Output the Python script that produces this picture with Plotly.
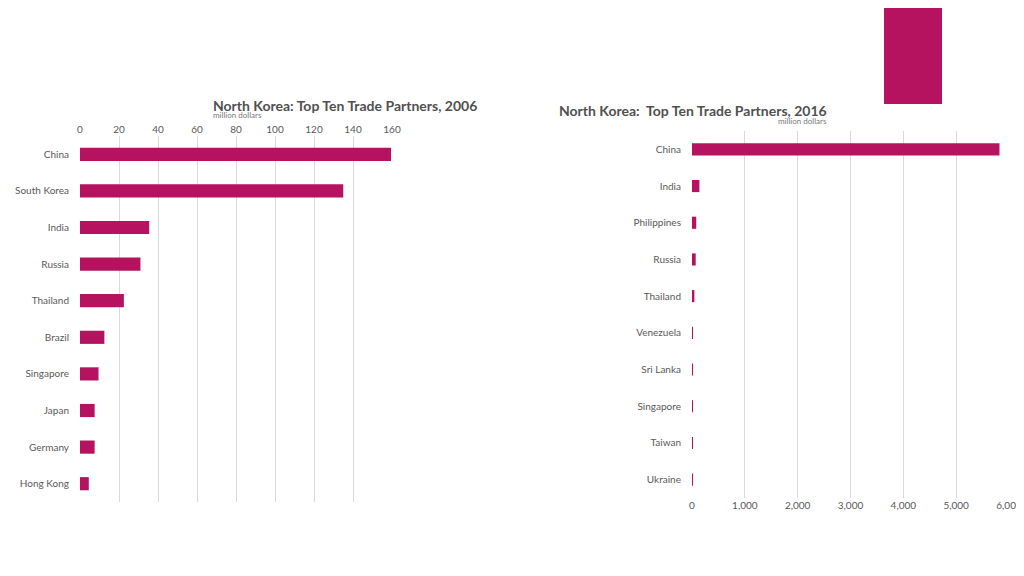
import plotly.graph_objects as go

cats_2006 = ["China", "South Korea", "India", "Russia", "Thailand", "Brazil",
             "Singapore", "Japan", "Germany", "Hong Kong"]
vals_2006 = [159.5, 135, 35.5, 31, 22.5, 12.5, 9.5, 7.5, 7.5, 4.5]
cats_2016 = ["China", "India", "Philippines", "Russia", "Thailand", "Venezuela",
             "Sri Lanka", "Singapore", "Taiwan", "Ukraine"]
vals_2016 = [5820, 140, 80, 70, 45, 15, 5, 4, 3, 2]

BAR = "#B5135F"
FONT = "Lato"
TXT = "#595959"
W, H = 1024, 576

def px(x): return x / W
def py(y): return 1 - y / H

fig = go.Figure()
fig.add_trace(go.Bar(y=cats_2006, x=vals_2006, orientation="h", marker_color=BAR,
                     marker_line_width=0, width=0.36, xaxis="x", yaxis="y"))
fig.add_trace(go.Bar(y=cats_2016, x=vals_2016, orientation="h", marker_color=BAR,
                     marker_line_width=0, width=0.33, xaxis="x2", yaxis="y2"))

axfont = dict(family=FONT, size=10, color=TXT)
fig.update_layout(
    width=W, height=H, paper_bgcolor="white", plot_bgcolor="white",
    showlegend=False, margin=dict(l=0, r=0, t=0, b=0, autoexpand=False),
    xaxis=dict(domain=[px(72), px(384)], range=[0, 160], dtick=20, side="top",
               anchor="y", showgrid=True, gridcolor="#D9D9D9", zeroline=False,
               showline=False, tickfont=axfont, ticks="", automargin=False),
    yaxis=dict(domain=[py(494), py(128)], autorange="reversed", anchor="x",
               tickfont=axfont, ticks="outside", ticklen=8, tickcolor="white",
               showgrid=False, zeroline=False, automargin=False),
    xaxis2=dict(domain=[px(684), px(1001)], range=[0, 6000], dtick=1000,
                tickformat=",", anchor="y2", showgrid=True, gridcolor="#D9D9D9",
                zeroline=False, showline=False, tickfont=axfont, ticks="", automargin=False),
    yaxis2=dict(domain=[py(490), py(123)], autorange="reversed", anchor="x2",
                tickfont=axfont, ticks="outside", ticklen=8, tickcolor="white",
                showgrid=False, zeroline=False, automargin=False),
    shapes=[dict(type="rect", xref="paper", yref="paper", x0=px(876), x1=px(934),
                 y0=py(96), y1=1, fillcolor=BAR, line_width=0, layer="below")],
    annotations=[
        dict(text="<b>North Korea: Top Ten Trade Partners, 2006</b>", xref="paper", yref="paper",
             x=px(203), y=py(87), showarrow=False, font=dict(family=FONT, size=14, color="#505050")),
        dict(text="million dollars", xref="paper", yref="paper", x=px(203), y=py(100),
             showarrow=False, font=dict(family=FONT, size=8, color="#777")),
        dict(text="<b>North Korea:  Top Ten Trade Partners, 2016</b>", xref="paper", yref="paper",
             x=px(821), y=py(92), showarrow=False, font=dict(family=FONT, size=14, color="#505050")),
        dict(text="million dollars", xref="paper", yref="paper", x=px(821), y=py(106),
             showarrow=False, font=dict(family=FONT, size=8, color="#777")),
    ],
)
fig.write_html("out.html")
